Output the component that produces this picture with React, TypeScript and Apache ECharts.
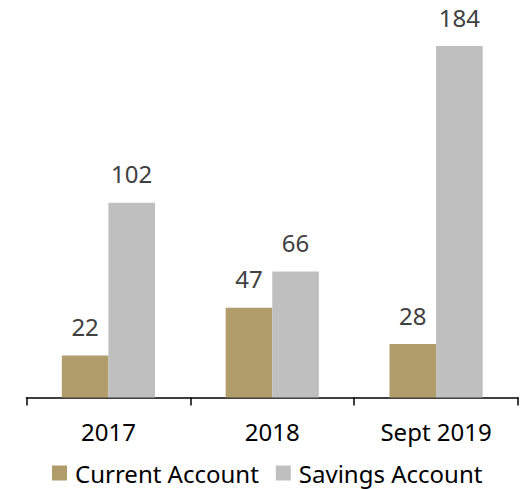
import React, { useEffect, useRef } from "react";
import * as echarts from "echarts";

const categories = ["2017", "2018", "Sept 2019"];
const currentAccount = [22, 47, 28];
const savingsAccount = [102, 66, 184];
const seriesNames = ["Current Account", "Savings Account"];

export default function App() {
  const ref = useRef<HTMLDivElement>(null);
  useEffect(() => {
    if (!ref.current) return;
    const chart = echarts.init(ref.current, null, { renderer: "svg" });
    const font = "'Noto Sans', sans-serif";
    chart.setOption({
      animation: false,
      textStyle: { fontFamily: font },
      grid: { left: 26.5, right: 3, top: 15.5, bottom: 91.5, containLabel: false },
      legend: {
        left: 52,
        top: 461,
        padding: 0,
        itemWidth: 15,
        itemHeight: 15,
        itemGap: 17,
        icon: "rect",
        textStyle: {
          fontFamily: font,
          fontSize: 24,
          lineHeight: 22,
          color: "#000",
          padding: [0, 0, 0, 3],
        },
        data: seriesNames,
      },
      xAxis: {
        type: "category",
        data: categories,
        axisLine: { lineStyle: { color: "#000", width: 1.5 } },
        axisTick: { show: true, length: 8, lineStyle: { color: "#000", width: 1.5 } },
        axisLabel: { margin: 22, fontFamily: font, fontSize: 24, color: "#000" },
      },
      yAxis: {
        type: "value",
        min: 0,
        max: 200,
        show: false,
        splitLine: { show: false },
      },
      series: [
        {
          name: seriesNames[0],
          type: "bar",
          data: currentAccount,
          barWidth: 46.6,
          barGap: "0%",
          itemStyle: { color: "#B09D6B" },
          label: {
            show: true,
            position: "top",
            distance: 17,
            fontFamily: font,
            fontSize: 24,
            color: "#404040",
          },
        },
        {
          name: seriesNames[1],
          type: "bar",
          data: savingsAccount,
          barWidth: 46.6,
          barGap: "0%",
          itemStyle: { color: "#BFBFBF" },
          label: {
            show: true,
            position: "top",
            distance: 17,
            fontFamily: font,
            fontSize: 24,
            color: "#404040",
          },
        },
      ],
    });
    return () => chart.dispose();
  }, []);
  return <div ref={ref} style={{ width: 521, height: 489, position: "absolute", left: 0, top: 0 }} />;
}
